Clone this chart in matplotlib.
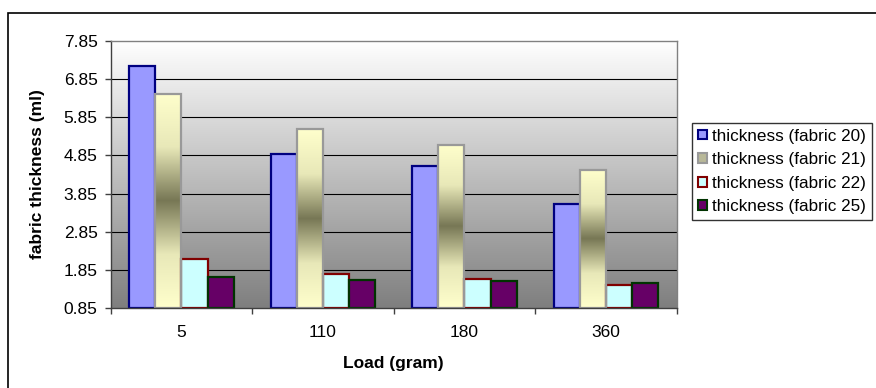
import numpy as np
import matplotlib.pyplot as plt
from matplotlib.colors import LinearSegmentedColormap
from matplotlib.patches import Rectangle

plt.rcParams['font.family'] = ['Liberation Sans', 'DejaVu Sans']

# loads (gram) and fabric thickness readings
loads = ['5', '110', '180', '360']
fabric_20 = [7.18, 4.88, 4.58, 3.59]
fabric_21 = [6.45, 5.53, 5.12, 4.48]
fabric_22 = [2.15, 1.74, 1.61, 1.47]
fabric_25 = [1.66, 1.59, 1.56, 1.51]
series_names = ['thickness (fabric 20)', 'thickness (fabric 21)',
                'thickness (fabric 22)', 'thickness (fabric 25)']
y_ticks = [0.85, 1.85, 2.85, 3.85, 4.85, 5.85, 6.85, 7.85]

ymin, ymax = y_ticks[0], y_ticks[-1]
fs = 12.5

fig = plt.figure(figsize=(8.76, 3.88), dpi=100)
# frame around the whole chart (only top/left fall inside the image)
fig.add_artist(Rectangle((8 / 876, -0.1), 1.0, (388 - 13) / 388 + 0.1,
                         transform=fig.transFigure, fill=False,
                         edgecolor='black', linewidth=1.2))

ax = fig.add_axes([0.1264, 0.2054, 0.6461, 0.6897])
ax.set_xlim(-0.5, len(loads) - 0.5)
ax.set_ylim(ymin, ymax)

# plot area: white to grey from top to bottom
bg = LinearSegmentedColormap.from_list('bg', ['#7f7f7f', '#ffffff'])
ax.imshow(np.linspace(0, 1, 256).reshape(-1, 1), cmap=bg, origin='lower',
          extent=(-0.5, len(loads) - 0.5, ymin, ymax), aspect='auto', zorder=0)

for t in y_ticks[1:-1]:
    ax.axhline(t, color='black', linewidth=0.8, zorder=1)

x = np.arange(len(loads))
w = 0.184
offsets = np.array([-1.5, -0.5, 0.5, 1.5]) * w

ax.bar(x + offsets[0], np.array(fabric_20) - ymin, w, bottom=ymin,
       color='#9999ff', edgecolor='#000080', linewidth=1.6, zorder=3)

# fabric 21: cream - olive grey - cream shading along each bar
shade = LinearSegmentedColormap.from_list(
    'shade', ['#ffffcc', '#e8e8b8', '#777755', '#e8e8b8', '#ffffcc'])
bars21 = ax.bar(x + offsets[1], np.array(fabric_21) - ymin, w, bottom=ymin,
                facecolor='none', edgecolor='#999999', linewidth=1.6, zorder=4)
for b in bars21:
    x0, y0 = b.get_x(), b.get_y()
    ax.imshow(np.linspace(0, 1, 256).reshape(-1, 1), cmap=shade, origin='lower',
              extent=(x0, x0 + b.get_width(), y0, y0 + b.get_height()),
              aspect='auto', zorder=3)

ax.bar(x + offsets[2], np.array(fabric_22) - ymin, w, bottom=ymin,
       color='#ccffff', edgecolor='#800000', linewidth=1.6, zorder=3)
ax.bar(x + offsets[3], np.array(fabric_25) - ymin, w, bottom=ymin,
       color='#660066', edgecolor='#003300', linewidth=1.6, zorder=3)

ax.set_xlim(-0.5, len(loads) - 0.5)
ax.set_ylim(ymin, ymax)

ax.set_yticks(y_ticks)
ax.set_yticklabels(['%.2f' % t for t in y_ticks], fontsize=fs)
ax.set_xticks(x)
ax.set_xticklabels(loads, fontsize=fs)
ax.set_xticks(np.arange(len(loads) + 1) - 0.5, minor=True)
ax.tick_params(axis='x', which='major', length=0, pad=12)
ax.tick_params(axis='x', which='minor', length=4.5, width=1, color='#404040')
ax.tick_params(axis='y', length=4.5, width=1, color='#404040', pad=5)

for s in ['top', 'right']:
    ax.spines[s].set_color('#808080')
for s in ['left', 'bottom']:
    ax.spines[s].set_color('#404040')
for s in ax.spines.values():
    s.set_linewidth(1)
    s.set_zorder(5)

ax.set_xlabel('Load (gram)', fontsize=fs, fontweight='bold', va='center')
ax.set_ylabel('fabric thickness (ml)', fontsize=fs, fontweight='bold', va='center')
ax.xaxis.set_label_coords(0.5, (308.3 - 363) / 267.6)
ax.yaxis.set_label_coords((37 - 110.7) / 566, 0.5)

handles = [
    Rectangle((0, 0), 1, 1, facecolor='#9999ff', edgecolor='#000080', linewidth=1.5),
    Rectangle((0, 0), 1, 1, facecolor='#b8b898', edgecolor='#999999', linewidth=1.5),
    Rectangle((0, 0), 1, 1, facecolor='#ccffff', edgecolor='#800000', linewidth=1.5),
    Rectangle((0, 0), 1, 1, facecolor='#660066', edgecolor='#003300', linewidth=1.5),
]
leg = fig.legend(handles, series_names, loc='upper left',
                 bbox_to_anchor=(692 / 876, 1 - 122.7 / 388), fontsize=12.3,
                 frameon=True, fancybox=False, handlelength=0.5,
                 handleheight=0.5, handletextpad=0.35, labelspacing=0.5,
                 borderpad=0.35, borderaxespad=0)
leg.get_frame().set_edgecolor('black')
leg.get_frame().set_linewidth(1)

fig.savefig('out.png', dpi=100)
